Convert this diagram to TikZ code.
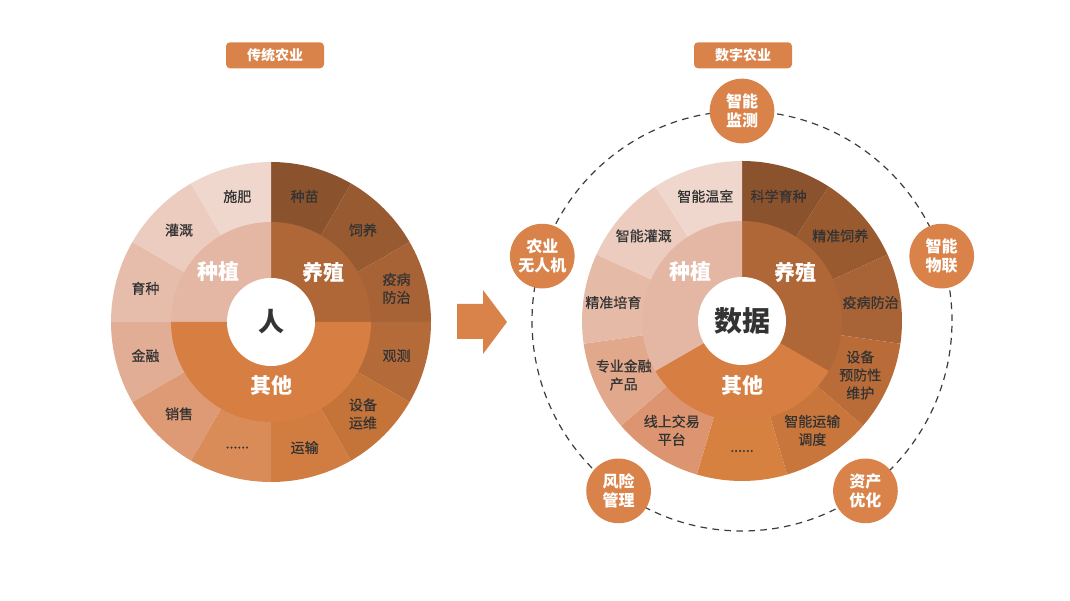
\documentclass[tikz,border=0pt]{standalone}
\usepackage{fontspec}
\setmainfont{Noto Sans CJK SC}
\newfontfamily\medfont{Noto Sans CJK SC}[FakeBold=0.6]
\usetikzlibrary{calc}

\definecolor{orng}{HTML}{D9834A}
\definecolor{txtdark}{HTML}{333333}
\definecolor{ringgrey}{HTML}{3C3C3C}
% inner ring
\definecolor{inPlant}{HTML}{E4B7A5}
\definecolor{inBreed}{HTML}{B06737}
\definecolor{inOther}{HTML}{D77F42}
% outer ring, clockwise from top (traditional)
\definecolor{oa}{HTML}{8A532D}
\definecolor{ob}{HTML}{985A30}
\definecolor{oc}{HTML}{A76236}
\definecolor{od}{HTML}{B56A3A}
\definecolor{oe}{HTML}{C47339}
\definecolor{of}{HTML}{D17C40}
\definecolor{og}{HTML}{D98C58}
\definecolor{oh}{HTML}{DD9A75}
\definecolor{oi}{HTML}{E1AD94}
\definecolor{oj}{HTML}{E6BDAB}
\definecolor{ok}{HTML}{EBCCBF}
\definecolor{ol}{HTML}{F0D7CE}
% outer ring, clockwise from top (digital)
\definecolor{da}{HTML}{8A532D}
\definecolor{db}{HTML}{995A30}
\definecolor{dc}{HTML}{A86337}
\definecolor{dd}{HTML}{B96B38}
\definecolor{de}{HTML}{C8763C}
\definecolor{df}{HTML}{D6813F}
\definecolor{dg}{HTML}{DC9570}
\definecolor{dh}{HTML}{E1A88C}
\definecolor{di}{HTML}{E5BBA8}
\definecolor{dj}{HTML}{EBCCBF}
\definecolor{dk}{HTML}{F0D7CE}

\tikzset{
  titlebox/.style={fill=orng, rounded corners=3pt, minimum width=73.5pt, minimum height=19.5pt,
    text=white, font=\fontsize{10.5}{12}\selectfont\bfseries, inner sep=0pt},
  ringnode/.style={circle, fill=orng, minimum size=48.5pt, inner sep=0pt, align=center,
    text=white, font=\fontsize{12}{14.2}\selectfont\bfseries},
  outlabel/.style={align=center, text=txtdark, inner sep=0pt,
    font=\fontsize{10.5}{13.5}\selectfont\medfont},
  inlabel/.style={text=white, inner sep=0pt, font=\fontsize{15.75}{18}\selectfont\bfseries},
  hub/.style={circle, fill=white, minimum size=66pt, inner sep=0pt, text=txtdark,
    font=\fontsize{19.5}{22}\selectfont\bfseries},
  dashring/.style={draw=ringgrey, line width=0.9pt, dash pattern=on 5pt off 4pt}
}

\begin{document}
\begin{tikzpicture}[x=0.75pt,y=0.75pt]
  \def\ro{160}
  \def\ri{100}
  \def\rl{130}
  \def\etc{......}
  \fill[white] (0,0) rectangle (1070,600);
  \useasboundingbox (0,0) rectangle (1070,600);

  \coordinate (L) at (271,278);
  \coordinate (R) at (742,279);

  % titles
  \node[titlebox] (told) at (275,544.7) {传统农业};
  \node[titlebox] (tnew) at (743,544.7) {数字农业};

  % traditional: outer ring
  \foreach \col [count=\i] in {oa,ob,oc,od,oe,of,og,oh,oi,oj,ok,ol}
    \fill[\col] (L) -- ++({120-30*\i}:\ro) arc[start angle={120-30*\i}, delta angle=-30, radius=\ro] -- cycle;
  % traditional: inner ring
  \fill[inBreed] (L) -- ++(0:\ri) arc[start angle=0, end angle=90, radius=\ri] -- cycle;
  \fill[inPlant] (L) -- ++(90:\ri) arc[start angle=90, end angle=180, radius=\ri] -- cycle;
  \fill[inOther] (L) -- ++(180:\ri) arc[start angle=180, end angle=360, radius=\ri] -- cycle;
  \node[hub] (man) at (L) {人};

  \foreach \txt [count=\i] in {种苗,饲养,{疫病\\防治},观测,{设备\\运维},运输,\etc,销售,金融,育种,灌溉,施肥}
    \node[outlabel] (lt\i) at ($(L)+({105-30*\i}:\rl)$) {\txt};
  \node[inlabel] (ltPlant) at ($(L)+(-53,50)$) {种植};
  \node[inlabel] (ltBreed) at ($(L)+(52,50)$) {养殖};
  \node[inlabel] (ltOther) at ($(L)+(0,-64)$) {其他};

  % arrow
  \fill[orng] (457,296) -- (483,296) -- (483,310) -- (507,278) -- (483,246) -- (483,261) -- (457,261) -- cycle;

  % digital: dashed ring with its nodes
  \draw[dashring] (R) circle[radius=210];
  \foreach \txt/\ang [count=\i] in {{智能\\监测}/90,{智能\\物联}/18,{资产\\优化}/-54,{风险\\管理}/-126,{农业\\无人机}/162}
    \node[ringnode] (rn\i) at ($(R)+(\ang:210)$) {\txt};

  % digital: outer ring
  \foreach \col [count=\i] in {da,db,dc,dd,de,df,dg,dh,di,dj,dk}
    \fill[\col] (R) -- ++({90-360/11*(\i-1)}:\ro) arc[start angle={90-360/11*(\i-1)}, delta angle={-360/11}, radius=\ro] -- cycle;
  % digital: inner ring
  \fill[inBreed] (R) -- ++(90:\ri) arc[start angle=90, end angle=-30, radius=\ri] -- cycle;
  \fill[inOther] (R) -- ++(-30:\ri) arc[start angle=-30, end angle=-150, radius=\ri] -- cycle;
  \fill[inPlant] (R) -- ++(-150:\ri) arc[start angle=-150, end angle=-270, radius=\ri] -- cycle;
  \node[hub, font=\fontsize{21}{24}\selectfont\bfseries] (data) at (R) {数据};

  \foreach \txt [count=\i] in {科学育种,精准饲养,疫病防治,{设备\\预防性\\维护},{智能运输\\调度},\etc,{线上交易\\平台},{专业金融\\产品},精准培育,智能灌溉,智能温室}
    \node[outlabel] (rt\i) at ($(R)+({90-360/11*(\i-0.5)}:\rl)$) {\txt};
  \node[inlabel] (rtPlant) at ($(R)+(-52,49)$) {种植};
  \node[inlabel] (rtBreed) at ($(R)+(53,49)$) {养殖};
  \node[inlabel] (rtOther) at ($(R)+(0,-65)$) {其他};
\end{tikzpicture}
\end{document}
